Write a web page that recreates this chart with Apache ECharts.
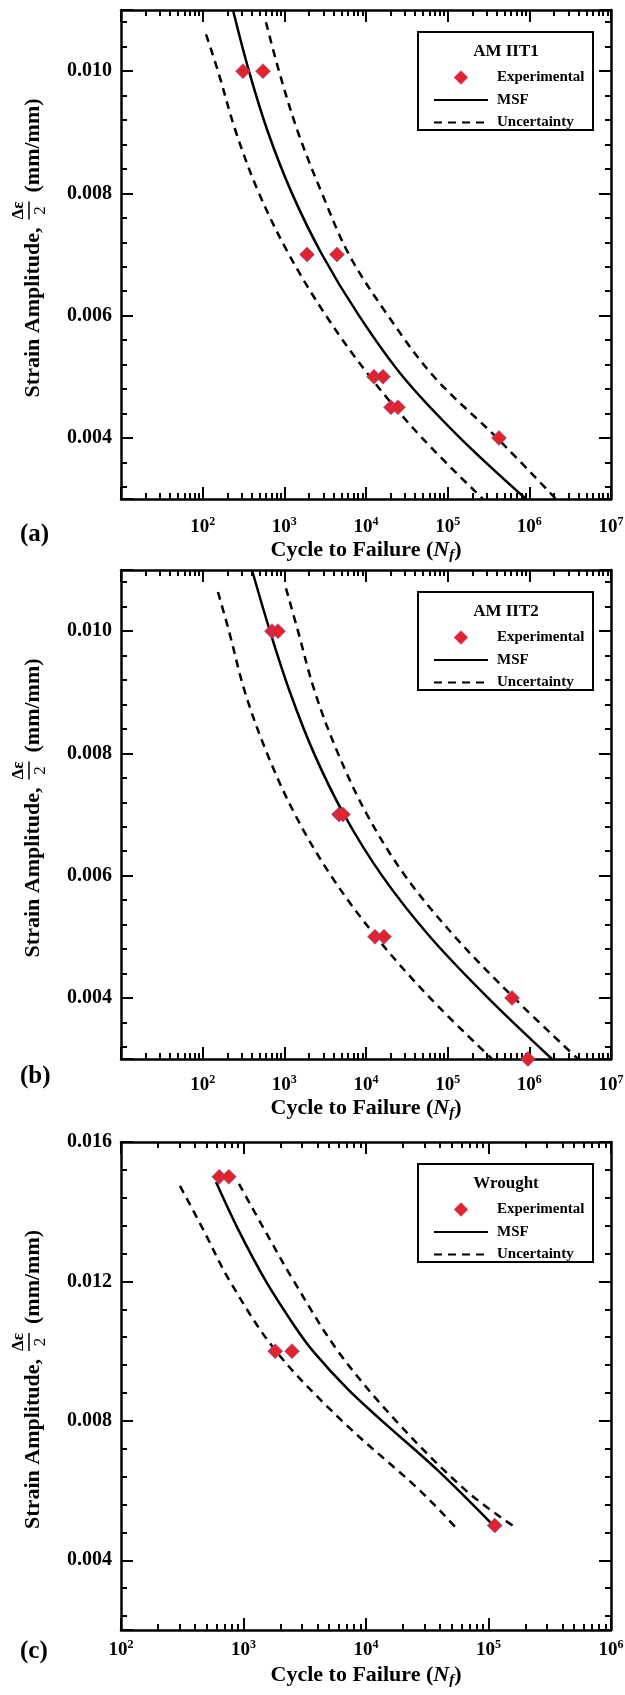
<!DOCTYPE html>
<html>
<head>
<meta charset="utf-8">
<script src="https://cdn.jsdelivr.net/npm/echarts@6.0.0/dist/echarts.min.js"></script>
<style>
  html, body { margin: 0; padding: 0; background: #fff; }
  #chart { width: 625px; height: 1695px; }
</style>
</head>
<body>
<div id="chart"></div>
<script>
const FONT = '"Liberation Serif", "Times New Roman", Times, serif';

// (a) AM IIT1
const a_expCycles = [312, 548, 1897, 4415, 12530, 16140, 20230, 24650, 425000];
const a_expStrain = [0.010, 0.010, 0.007, 0.007, 0.005, 0.005, 0.0045, 0.0045, 0.004];
const a_msfCycles = [235, 369, 631, 1241, 2892, 8208, 28370, 141600, 910000];
const a_msfStrain = [0.011, 0.010, 0.009, 0.008, 0.007, 0.006, 0.005, 0.004, 0.003];
const a_lowCycles = [110, 154, 256, 490, 1140, 3237, 11190, 48470, 270700];
const a_lowStrain = [0.0106, 0.010, 0.009, 0.008, 0.007, 0.006, 0.005, 0.004, 0.003];
const a_upCycles = [596, 860, 1470, 2892, 6189, 18590, 67980, 401700, 2120000];
const a_upStrain = [0.0108, 0.010, 0.009, 0.008, 0.007, 0.006, 0.005, 0.004, 0.003];

// (b) AM IIT2
const b_expCycles = [706, 836, 4670, 5220, 12880, 16600, 614000, 961000];
const b_expStrain = [0.010, 0.010, 0.007, 0.007, 0.005, 0.005, 0.004, 0.003];
const b_msfCycles = [402, 667, 1173, 2308, 5376, 15700, 60760, 311700, 1894000];
const b_msfStrain = [0.011, 0.010, 0.009, 0.008, 0.007, 0.006, 0.005, 0.004, 0.003];
const b_lowCycles = [154, 210, 330, 614, 1351, 3726, 13260, 60760, 348900];
const b_lowStrain = [0.01064, 0.010, 0.009, 0.008, 0.007, 0.006, 0.005, 0.004, 0.003];
const b_upCycles = [1048, 1470, 2373, 4540, 10280, 30020, 122900, 648900, 3942000];
const b_upStrain = [0.0107, 0.010, 0.009, 0.008, 0.007, 0.006, 0.005, 0.004, 0.003];

// (c) Wrought
const c_expCycles = [634, 759, 1815, 2489, 112400];
const c_expStrain = [0.015, 0.015, 0.010, 0.010, 0.005];
const c_msfCycles = [597, 902, 1527, 2633, 3693, 7132, 13510, 37980, 106800];
const c_msfStrain = [0.01485, 0.0135, 0.0120, 0.0107, 0.0100, 0.0089, 0.0080, 0.0066, 0.00504];
const c_lowCycles = [303, 467, 776, 1842, 6370, 27600, 56360];
const c_lowStrain = [0.01474, 0.0135, 0.0120, 0.0100, 0.0080, 0.0060, 0.00487];
const c_upCycles = [919, 1585, 2584, 5908, 17570, 65530, 167700];
const c_upStrain = [0.0148, 0.0133, 0.0120, 0.0100, 0.0080, 0.0060, 0.00493];

// axis ticks
const abStrainTicks = [0.004, 0.006, 0.008, 0.010];
const cStrainTicks = [0.004, 0.008, 0.012, 0.016];
const abDecades = [1, 7];   // 10^1 .. 10^7
const cDecades = [2, 6];    // 10^2 .. 10^6
const minorMultipliers = [2, 3, 4, 5, 6, 7, 8, 9];

const zip = (xs, ys) => xs.map((x, i) => [x, ys[i]]);

const panels = [
  { title: 'AM IIT1', tag: '(a)', top: 10, height: 489, dec: abDecades, hideFirst: true,
    yMin: 0.003, yMax: 0.011, yStep: 0.002, yTicks: abStrainTicks,
    exp: zip(a_expCycles, a_expStrain), msf: zip(a_msfCycles, a_msfStrain),
    low: zip(a_lowCycles, a_lowStrain), up: zip(a_upCycles, a_upStrain),
    labelMargin: 17, nameGap: 38, tagY: 535 },
  { title: 'AM IIT2', tag: '(b)', top: 570, height: 489, dec: abDecades, hideFirst: true,
    yMin: 0.003, yMax: 0.011, yStep: 0.002, yTicks: abStrainTicks,
    exp: zip(b_expCycles, b_expStrain), msf: zip(b_msfCycles, b_msfStrain),
    low: zip(b_lowCycles, b_lowStrain), up: zip(b_upCycles, b_upStrain),
    labelMargin: 15, nameGap: 36, tagY: 1077 },
  { title: 'Wrought', tag: '(c)', top: 1142, height: 488, dec: cDecades, hideFirst: false,
    yMin: 0.002, yMax: 0.016, yStep: 0.004, yTicks: cStrainTicks,
    exp: zip(c_expCycles, c_expStrain), msf: zip(c_msfCycles, c_msfStrain),
    low: zip(c_lowCycles, c_lowStrain), up: zip(c_upCycles, c_upStrain),
    labelMargin: 9, nameGap: 32, tagY: 1652 }
];

const LEFT = 121, WIDTH = 490;
const black = '#000';
// fresh objects per axis (sharing them between axes lost the ticks)
const axisLineStyle = () => ({ color: black, width: 2.5 });
const tickStyle = () => ({ color: black, width: 2 });

const grid = [], xAxis = [], yAxis = [], series = [], legend = [], graphic = [];

panels.forEach((p, i) => {
  grid.push({ left: LEFT, top: p.top, width: WIDTH, height: p.height,
              containLabel: false, outerBoundsMode: 'none' });

  // y axes: left (data + labels) and right (ticks only)
  const yi = yAxis.length;
  ['left', 'right'].forEach(pos => {
    yAxis.push({
      type: 'value', gridIndex: i, position: pos, min: p.yMin, max: p.yMax,
      splitNumber: Math.round((p.yMax - p.yMin) / p.yStep),
      minInterval: p.yStep, maxInterval: p.yStep,
      splitLine: { show: false },
      axisLine: { show: true, onZero: false, lineStyle: axisLineStyle() },
      axisTick: { show: true, inside: true, length: 12, lineStyle: tickStyle() },
      minorTick: { show: true, splitNumber: 5, length: 6, lineStyle: tickStyle() },
      axisLabel: pos === 'left' ? {
        show: true, margin: 9, color: black, fontFamily: FONT, fontSize: 20, fontWeight: 'bold',
        formatter: v => p.yTicks.some(t => Math.abs(t - v) < 1e-9) ? v.toFixed(3) : ''
      } : { show: false }
    });
  });

  const xi = xAxis.length;
  // data axis (log), hidden
  xAxis.push({ type: 'log', logBase: 10, gridIndex: i, min: Math.pow(10, p.dec[0]),
               max: Math.pow(10, p.dec[1]), show: false, splitLine: { show: false } });

  // decade axes in log10 space (ticks + labels)
  ['bottom', 'top'].forEach(pos => {
    const ax = {
      type: 'value', gridIndex: i, position: pos, min: p.dec[0], max: p.dec[1], interval: 1,
      splitLine: { show: false },
      axisLine: { show: true, onZero: false, lineStyle: axisLineStyle() },
      axisTick: { show: true, inside: true, length: 12, lineStyle: tickStyle() },
      axisLabel: { show: false }
    };
    if (pos === 'bottom') {
      ax.axisLabel = {
        show: true, interval: 0, showMinLabel: true, showMaxLabel: true,
        margin: p.labelMargin, color: black, fontFamily: FONT, fontSize: 19, fontWeight: 'bold',
        lineHeight: 22,
        formatter: v => (p.hideFirst && v === p.dec[0]) ? '' : '10{s|' + v + '}',
        rich: { s: { fontSize: 12, fontWeight: 'bold', fontFamily: FONT, color: black,
                     verticalAlign: 'top', lineHeight: 12 } }
      };
      ax.name = 'Cycle to Failure ({i|N}{sub|f})';
      ax.nameLocation = 'middle';
      ax.nameGap = p.nameGap;
      ax.nameMoveOverlap = false;
      ax.nameTextStyle = {
        color: black, fontFamily: FONT, fontSize: 22, fontWeight: 'bold', lineHeight: 26,
        rich: {
          i: { fontFamily: FONT, fontSize: 22, fontWeight: 'bold', fontStyle: 'italic', color: black, lineHeight: 26 },
          sub: { fontFamily: FONT, fontSize: 15, fontWeight: 'bold', fontStyle: 'italic', color: black,
                 verticalAlign: 'bottom', lineHeight: 15 }
        }
      };
    }
    xAxis.push(ax);
  });

  // minor ticks at k*10^n: one shifted axis per multiplier, integer ticks land on log10(k)+n
  minorMultipliers.forEach(k => {
    const s = Math.log10(k);
    ['bottom', 'top'].forEach(pos => {
      xAxis.push({
        type: 'value', gridIndex: i, position: pos,
        min: p.dec[0] - s, max: p.dec[1] - s,
        splitNumber: p.dec[1] - p.dec[0], minInterval: 1, maxInterval: 1,
        axisLine: { show: false, onZero: false },
        axisTick: { show: true, inside: true, length: 6, lineStyle: tickStyle() },
        axisLabel: { show: false }, splitLine: { show: false }
      });
    });
  });

  series.push({
    name: 'MSF', type: 'line', xAxisIndex: xi, yAxisIndex: yi, data: p.msf,
    symbol: 'none', smooth: 0.35, itemStyle: { color: 'rgba(0,0,0,0)' },
    lineStyle: { color: black, width: 2.5 }, z: 3
  });
  series.push({
    name: 'Uncertainty', type: 'line', xAxisIndex: xi, yAxisIndex: yi, data: p.low,
    symbol: 'none', smooth: 0.35, itemStyle: { color: 'rgba(0,0,0,0)' },
    lineStyle: { color: black, width: 2.5, type: [8, 6] }, z: 3
  });
  series.push({
    name: 'Uncertainty', type: 'line', xAxisIndex: xi, yAxisIndex: yi, data: p.up,
    symbol: 'none', smooth: 0.35, itemStyle: { color: 'rgba(0,0,0,0)' },
    lineStyle: { color: black, width: 2.5, type: [8, 6] }, z: 3
  });
  series.push({
    name: 'Experimental', type: 'scatter', xAxisIndex: xi, yAxisIndex: yi, data: p.exp,
    symbol: 'diamond', symbolSize: 15, clip: false,
    itemStyle: { color: '#e3232a', borderColor: '#6b5bd6', borderWidth: 0.6, opacity: 1 }, z: 4
  });

  legend.push({
    data: [
      { name: 'Experimental', icon: 'path://M5,0L10,5L5,10L0,5Z',
        itemStyle: { color: '#e3232a', borderColor: '#7a6cd8', borderWidth: 0.3 } },
      { name: 'MSF' },
      { name: 'Uncertainty' }
    ],
    orient: 'vertical', left: 428, top: p.top + 55, symbolKeepAspect: true,
    itemWidth: 54, itemHeight: 14, itemGap: 7.5, selectedMode: false,
    textStyle: { fontFamily: FONT, fontSize: 15, fontWeight: 'bold', color: black, padding: [0, 0, 0, 4] }
  });

  // legend frame + title
  graphic.push({
    type: 'rect', shape: { x: 418, y: p.top + 22, width: 175, height: 98 },
    style: { fill: 'none', stroke: black, lineWidth: 2 }, z: 10
  });
  graphic.push({
    type: 'text', x: 506, y: p.top + 42,
    style: { text: p.title, fontFamily: FONT, fontSize: 17, fontWeight: 'bold', fill: black,
             textAlign: 'center', textVerticalAlign: 'middle' }, z: 10
  });
  // panel tag
  graphic.push({
    type: 'text', x: 20, y: p.tagY,
    style: { text: p.tag, fontFamily: FONT, fontSize: 25, fontWeight: 'bold', fill: black,
             textAlign: 'left', textVerticalAlign: 'middle' }, z: 10
  });
  // rotated y axis title: Strain Amplitude, Δε/2 (mm/mm)
  const cy = p.top + p.height / 2;
  graphic.push({
    type: 'group', x: 33, y: cy, rotation: Math.PI / 2, z: 10,
    children: [
      { type: 'text', x: 27, y: 0,
        style: { text: 'Strain Amplitude,', fontFamily: FONT, fontSize: 22, fontWeight: 'bold', fill: black,
                 textAlign: 'right', textVerticalAlign: 'middle' } },
      { type: 'text', x: 44, y: -14,
        style: { text: 'Δε', fontFamily: FONT, fontSize: 17, fontWeight: 'bold', fill: black,
                 textAlign: 'center', textVerticalAlign: 'middle' } },
      { type: 'line', shape: { x1: 35, y1: -4, x2: 53, y2: -4 },
        style: { stroke: black, lineWidth: 1.5 } },
      { type: 'text', x: 44, y: 8,
        style: { text: '2', fontFamily: FONT, fontSize: 17, fill: black,
                 textAlign: 'center', textVerticalAlign: 'middle' } },
      { type: 'text', x: 62, y: 0,
        style: { text: '(mm/mm)', fontFamily: FONT, fontSize: 22, fontWeight: 'bold', fill: black,
                 textAlign: 'left', textVerticalAlign: 'middle' } }
    ]
  });
});

const chart = echarts.init(document.getElementById('chart'));
chart.setOption({
  animation: false,
  backgroundColor: '#fff',
  grid, xAxis, yAxis, series, legend, graphic
});
</script>
</body>
</html>
